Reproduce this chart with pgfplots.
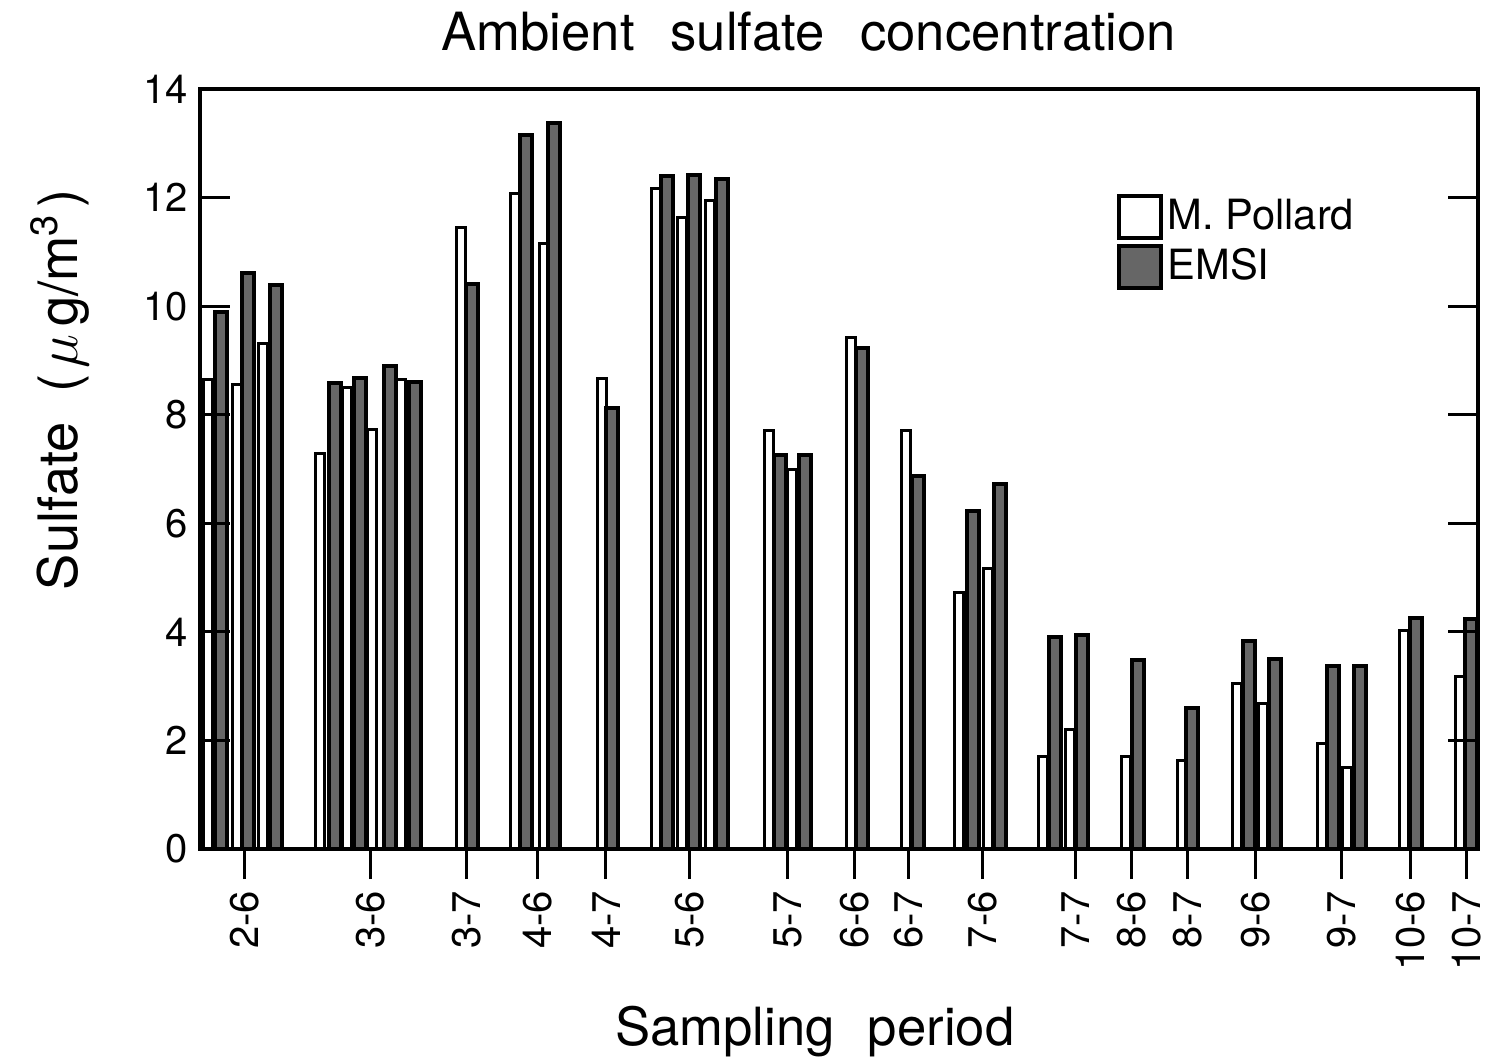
\documentclass[border=0pt]{standalone}
\usepackage{fontspec}
\setmainfont{TeX Gyre Heros}
\usepackage{pgfplots}
\pgfplotsset{compat=1.18}
\usepackage{pgfplotstable}

% x in the figure's own time units (pixel-like scale of the scanned chart)
\pgfplotstableread{
x    y
208  8.65
237  8.55
263  9.31
320  7.29
347  8.51
372  7.73
401  8.64
461  11.44
515  12.08
544  11.15
602  8.67
656  12.17
682  11.64
710  11.95
769  7.70
792  6.99
851  9.43
906  7.70
959  4.72
988  5.17
1043 1.70
1070 2.20
1126 1.70
1182 1.63
1237 3.05
1263 2.68
1322 1.94
1347 1.51
1404 4.03
1460 3.17
}\pollard

\pgfplotstableread{
x    y
221  9.90
248  10.61
276  10.39
335  8.58
360  8.68
390  8.90
415  8.61
472  10.40
526  13.16
554  13.38
612  8.12
667  12.40
694  12.42
722  12.34
780  7.26
805  7.26
862  9.22
918  6.88
973  6.23
1000 6.72
1055 3.90
1082 3.95
1138 3.48
1192 2.60
1249 3.84
1275 3.50
1333 3.38
1360 3.38
1416 4.26
1471 4.24
}\emsi

\begin{document}
\begin{tikzpicture}
\begin{axis}[
  scale only axis, width=383.4pt, height=228pt,
  xmin=200, xmax=1478, ymin=0, ymax=14,
  ybar, clip=false, axis on top,
  axis line style={line width=1.2pt},
  every tick/.style={black, line width=0.9pt},
  major tick length=9pt,
  xtick pos=bottom, xtick align=outside,
  ytick pos=both, ytick align=inside,
  xtick={245,371,466.5,538,606,690,788,855,909,982.5,1076,1132,1188,1256,1342,1411,1467},
  xticklabels={2-6,3-6,3-7,4-6,4-7,5-6,5-7,6-6,6-7,7-6,7-7,8-6,8-7,9-6,9-7,10-6,10-7},
  ytick={0,2,...,14},
  /pgf/number format/assume math mode=true,
  xticklabel style={rotate=90, anchor=east, font=\fontsize{12}{14}\selectfont},
  yticklabel style={font=\fontsize{12}{14}\selectfont},
  title={Ambient\hspace{0.68em}sulfate\hspace{0.68em}concentration},
  every axis title/.style={at={(axis description cs:0.4765,1.0513)}, anchor=base,
    font=\fontsize{15.8}{18}\selectfont},
  xlabel={Sampling\hspace{0.63em}period},
  xlabel style={at={(axis description cs:0.481,-0.258)}, anchor=base,
    font=\fontsize{15.8}{18}\selectfont},
  ylabel={Sulfate\hspace{0.55em}(\kern0.1em$\mu$\kern0.15em g/m\textsuperscript{3}\kern0.1em)},
  ylabel style={at={(axis description cs:-0.0955,0.604)}, anchor=base,
    font=\fontsize{16.3}{18}\selectfont},
  legend style={at={(rel axis cs:0.7167,0.863)}, anchor=north west,
    draw=none, fill=none, font=\fontsize{12.5}{14}\selectfont,
    row sep=1.2pt, inner sep=0pt, nodes={inner sep=1.5pt}},
  legend cell align=left,
  legend image code/.code={\draw[#1,line width=1.2pt] (0pt,-6.3pt) rectangle (12.6pt,6.3pt);},
]
\addplot[draw=black, fill=white, line width=0.9pt, bar width=9, bar shift=0pt] table {\pollard};
\addlegendentry{M. Pollard}
\addplot[draw=black, fill=black!60, line width=1.2pt, bar width=12, bar shift=0pt] table {\emsi};
\addlegendentry{EMSI}
\coordinate (bbl) at (rel axis cs:-0.1565,-0.2829);
\coordinate (btr) at (rel axis cs:1.00548,1.11711);
\end{axis}
\pgfresetboundingbox
\path[use as bounding box] (bbl) rectangle (btr);
\end{tikzpicture}
\end{document}
